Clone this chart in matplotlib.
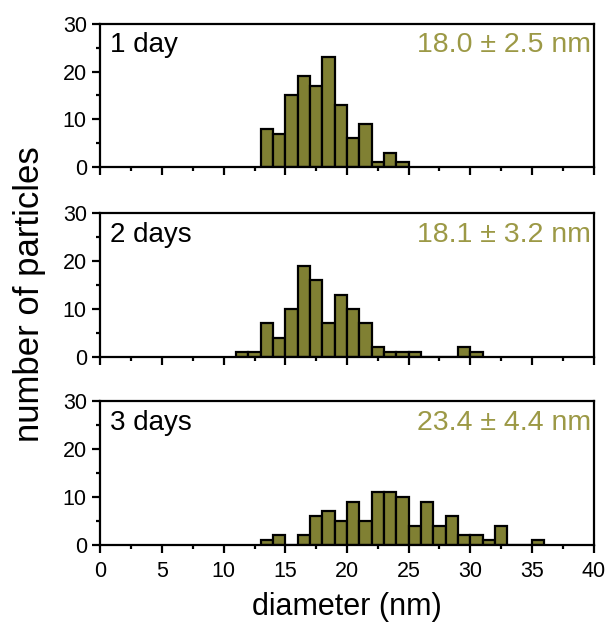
import numpy as np
import matplotlib.pyplot as plt
from matplotlib.ticker import MultipleLocator

plt.rcParams['font.family'] = ['Liberation Sans', 'DejaVu Sans']

# left bin edges (nm) and particle counts, 1 nm bins
day1_bins = np.arange(13, 25)
day1_counts = [8, 7, 15, 19, 17, 23, 13, 6, 9, 1, 3, 1]

day2_bins = np.arange(11, 31)
day2_counts = [1, 1, 7, 4, 10, 19, 16, 7, 13, 10, 7, 2, 1, 1, 1, 0, 0, 0, 2, 1]

day3_bins = np.arange(13, 36)
day3_counts = [1, 2, 0, 2, 6, 7, 5, 9, 5, 11, 11, 10, 4, 9, 4, 6, 2, 2, 1, 4, 0, 0, 1]

labels = ["1 day", "2 days", "3 days"]
stats = ["18.0 \u00b1 2.5 nm", "18.1 \u00b1 3.2 nm", "23.4 \u00b1 4.4 nm"]

bar_color = '#808033'
text_color = '#9c9946'

fig = plt.figure(figsize=(6.12, 6.26), dpi=100)

bottoms = [0.733, 0.430, 0.130]
panels = [(day1_bins, day1_counts), (day2_bins, day2_counts), (day3_bins, day3_counts)]

for i, (bins, counts) in enumerate(panels):
    ax = fig.add_axes([0.164, bottoms[i], 0.806, 0.229])
    ax.bar(bins, counts, width=1, align='edge', color=bar_color,
           edgecolor='black', linewidth=1.6)
    ax.set_xlim(0, 40)
    ax.set_ylim(0, 30)
    ax.xaxis.set_major_locator(MultipleLocator(5))
    ax.xaxis.set_minor_locator(MultipleLocator(2.5))
    ax.yaxis.set_major_locator(MultipleLocator(10))
    ax.yaxis.set_minor_locator(MultipleLocator(5))
    ax.tick_params(which='major', direction='out', length=5.8, width=1.6,
                   labelsize=15.5)
    ax.tick_params(which='minor', direction='out', length=3, width=1.6)
    ax.tick_params(axis='x', which='major', pad=6)
    ax.tick_params(axis='y', which='major', pad=4)
    for sp in ax.spines.values():
        sp.set_linewidth(1.6)
    if i < 2:
        ax.tick_params(axis='x', labelbottom=False)
    ax.text(0.02, 0.94, labels[i], transform=ax.transAxes, fontsize=20,
            ha='left', va='top')
    ax.text(0.995, 0.94, stats[i], transform=ax.transAxes, fontsize=20.5,
            ha='right', va='top', color=text_color)
    if i == 2:
        ax.set_xlabel("diameter (nm)", fontsize=22, labelpad=7)

fig.text(0.048, 0.53, "number of particles", rotation=90, fontsize=25,
         ha='center', va='center')

plt.savefig('out.png', dpi=100)
